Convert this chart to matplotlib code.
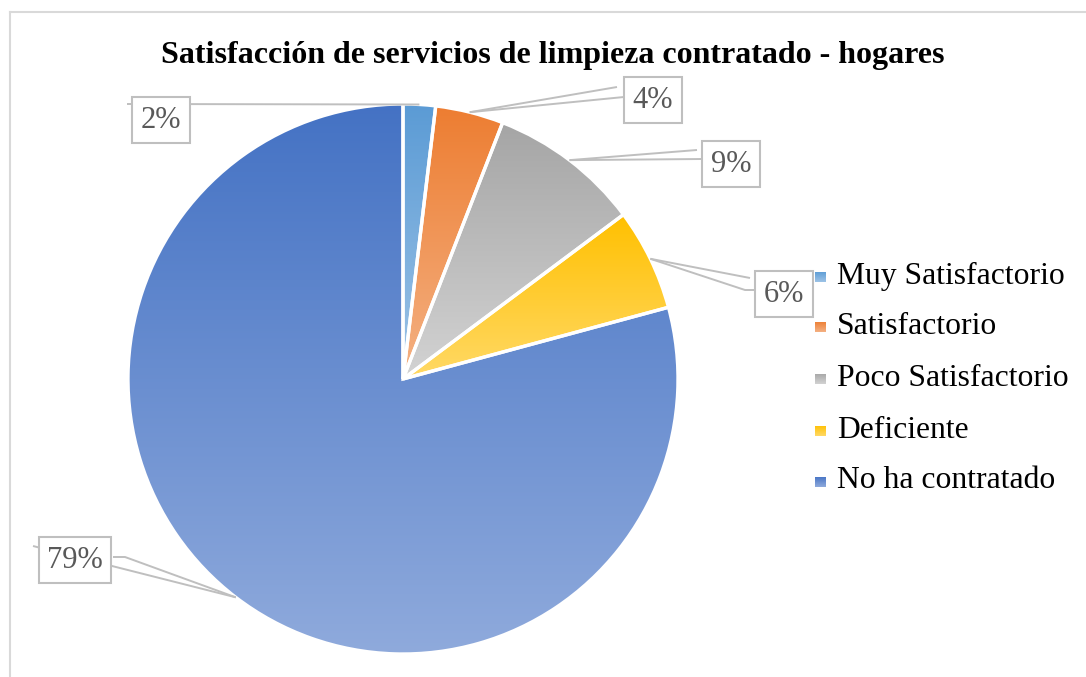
import numpy as np
import matplotlib
matplotlib.use("Agg")
import matplotlib.pyplot as plt
from matplotlib.colors import LinearSegmentedColormap

# datos
categorias = ["Muy Satisfactorio", "Satisfactorio", "Poco Satisfactorio",
              "Deficiente", "No ha contratado"]
porcentajes = [1.9, 4.0, 8.9, 6.0, 79.2]
color_arriba = ["#5B9BD5", "#ED7D31", "#A5A5A5", "#FFC000", "#4472C4"]
color_abajo = ["#9DC3E6", "#F4B183", "#D3D3D3", "#FFD966", "#8FAADC"]
titulo = "Satisfacción de servicios de limpieza contratado - hogares"

W, H = 1086, 677
SERIF = "Liberation Serif"

fig = plt.figure(figsize=(W / 100, H / 100), dpi=100)
ax = fig.add_axes([0, 0, 1, 1])


def py(y):
    # coordenadas en px desde arriba -> eje y normal
    return H - y


def degradado(patch, c0, c1, ext):
    cmap = LinearSegmentedColormap.from_list("g", [c1, c0])
    grad = np.linspace(0, 1, 256).reshape(-1, 1)
    im = ax.imshow(grad, cmap=cmap, origin="lower", aspect="auto",
                   extent=[ext.x0, ext.x1, ext.y0, ext.y1], zorder=1)
    im.set_clip_path(patch)


# pastel
cx, cy, r = 403, py(379), 275
wedges, _ = ax.pie(porcentajes, startangle=90, counterclock=False,
                   center=(cx, cy), radius=r,
                   wedgeprops=dict(facecolor="none", edgecolor="white", linewidth=2.4))
for w, c0, c1 in zip(wedges, color_arriba, color_abajo):
    w.set_facecolor("none")
    w.set_zorder(2)
    degradado(w, c0, c1, w.get_path().get_extents())

# etiquetas con líneas guía (posiciones de las cajas en px)
cajas = [(161, 120), (653, 100), (731, 164), (784, 294), (75, 560)]
guias = [
    [[(127, 104)]],
    [[(617, 87)], [(624, 97)]],
    [[(697, 150)], [(702, 159)]],
    [[(750, 278)], [(745, 290), (756, 290)]],
    [[(125, 557), (113, 557)], [(33, 546)]],
]
acum = np.cumsum([0] + porcentajes)
for i, p in enumerate(porcentajes):
    medio = (acum[i] + acum[i + 1]) / 2 / 100 * 360
    ang = np.deg2rad(90 - medio)
    sx, sy = cx + r * np.cos(ang), cy + r * np.sin(ang)
    for g in guias[i]:
        xs = [sx] + [q[0] for q in g]
        ys = [sy] + [py(q[1]) for q in g]
        ax.plot(xs, ys, color="#BFBFBF", lw=1.4, zorder=3, solid_capstyle="butt")
    bx, by = cajas[i]
    ax.text(bx, py(by), f"{round(p)}%", ha="center", va="center", fontsize=22,
            color="#595959", family=SERIF, zorder=4,
            bbox=dict(boxstyle="square,pad=0.28", fc="white", ec="#BFBFBF", lw=1.5))

# leyenda manual
ley_y = [277, 327, 379, 431, 482]
for nombre, c0, c1, y in zip(categorias, color_arriba, color_abajo, ley_y):
    sq = plt.Rectangle((815, py(y) - 5.5), 11, 11, facecolor="none", edgecolor="none")
    ax.add_patch(sq)
    degradado(sq, c0, c1, sq.get_extents().transformed(ax.transData.inverted()))
    ax.text(837, py(y) + 1, nombre, ha="left", va="center", fontsize=22.8,
            color="black", family=SERIF)

# título
ax.text(553, py(56), titulo, ha="center", va="center", fontsize=23,
        fontweight="bold", family=SERIF)

# borde del área del gráfico
ax.plot([10, W], [py(12), py(12)], color="#D9D9D9", lw=1.5)
ax.plot([10, 10], [py(12), 0], color="#D9D9D9", lw=1.5)

ax.set_xlim(0, W)
ax.set_ylim(0, H)
ax.set_aspect("auto")
ax.axis("off")
fig.savefig("out.png", dpi=100)
